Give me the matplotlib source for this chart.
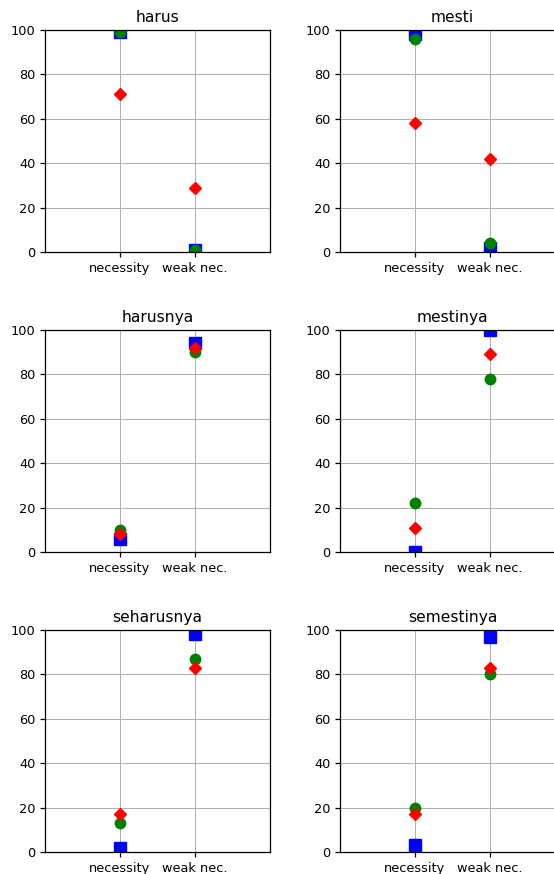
import numpy as np
import matplotlib
matplotlib.use("Agg")
import matplotlib.pyplot as plt

words = ["harus", "mesti", "harusnya", "mestinya", "seharusnya", "semestinya"]
cats = ["necessity", "weak nec."]

# values per word: [necessity, weak nec.]
blue = {
    "harus": [99, 1],
    "mesti": [98, 2],
    "harusnya": [6, 94],
    "mestinya": [0, 100],
    "seharusnya": [2, 98],
    "semestinya": [3, 97],
}
green = {
    "harus": [99, 1],
    "mesti": [96, 4],
    "harusnya": [10, 90],
    "mestinya": [22, 78],
    "seharusnya": [13, 87],
    "semestinya": [20, 80],
}
red = {
    "harus": [71, 29],
    "mesti": [58, 42],
    "harusnya": [8, 92],
    "mestinya": [11, 89],
    "seharusnya": [17, 83],
    "semestinya": [17, 83],
}

W, H = 554, 874
fig = plt.figure(figsize=(W / 100, H / 100), dpi=100)

lefts = [45, 340]
tops = [30, 330, 630]
aw, ah = 225, 222

x = np.arange(len(cats))
for i, w in enumerate(words):
    r, c = divmod(i, 2)
    ax = fig.add_axes([lefts[c] / W, 1 - (tops[r] + ah) / H, aw / W, ah / H])
    ax.plot(x, blue[w], "bs", markersize=8)
    ax.plot(x, green[w], "go", markersize=7.5)
    ax.plot(x, red[w], "rD", markersize=6.3)
    ax.set_xlim(-1, 2)
    ax.set_ylim(0, 100)
    ax.set_xticks(x)
    ax.set_xticklabels(cats)
    ax.set_yticks(range(0, 101, 20))
    ax.tick_params(labelsize=9.3, width=0.9)
    ax.grid(True, linewidth=0.75)
    for s in ax.spines.values():
        s.set_linewidth(0.9)
    ax.set_title(w, fontsize=11.2)

fig.savefig("out.png", dpi=100)
